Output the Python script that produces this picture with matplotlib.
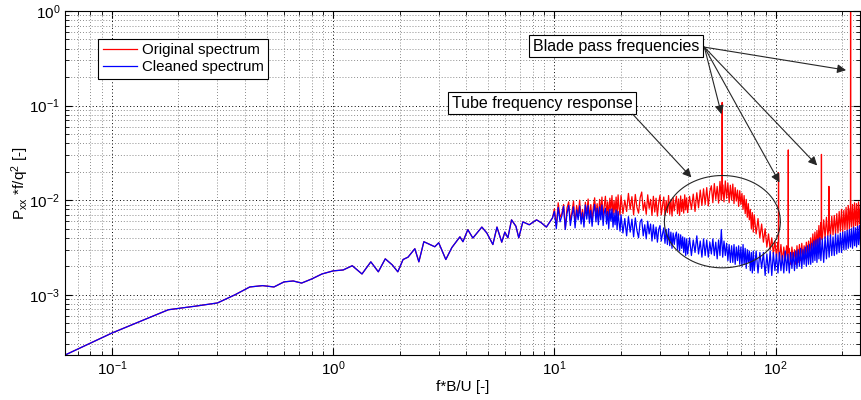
"""Spectrum before/after cleaning (log-log)"""

import numpy as np
import matplotlib
matplotlib.use("Agg")
import matplotlib.pyplot as plt

plt.rcParams["font.family"] = ["Liberation Sans", "DejaVu Sans"]
plt.rcParams["mathtext.fontset"] = "custom"
plt.rcParams["mathtext.rm"] = "Liberation Sans"
plt.rcParams["mathtext.it"] = "Liberation Sans:italic"

# low-frequency part, both spectra identical here
low_f = [0.06, 0.10, 0.18, 0.24, 0.30, 0.36, 0.42, 0.48, 0.54, 0.60,
         0.66, 0.72, 0.80, 0.89, 1.00, 1.11, 1.22, 1.35, 1.48, 1.60,
         1.72, 1.85, 1.96, 2.07, 2.18, 2.34, 2.44, 2.57, 2.88, 3.00,
         3.23, 3.44, 3.62, 3.74, 3.86, 4.06, 4.28, 4.50, 4.70, 4.95,
         5.27, 5.50, 5.78, 5.97, 6.16, 6.40, 6.70, 6.90, 7.20, 7.70,
         8.30, 8.70, 9.20, 9.80]
low_v = [2.25e-4, 3.94e-4, 6.95e-4, 7.6e-4, 8.2e-4, 1.0e-3, 1.21e-3, 1.25e-3, 1.21e-3, 1.37e-3,
         1.40e-3, 1.33e-3, 1.47e-3, 1.66e-3, 1.79e-3, 1.83e-3, 2.03e-3, 1.66e-3, 2.23e-3, 1.75e-3,
         2.40e-3, 2.07e-3, 1.75e-3, 2.36e-3, 2.50e-3, 3.07e-3, 2.23e-3, 3.64e-3, 3.22e-3, 3.55e-3,
         2.36e-3, 3.16e-3, 3.70e-3, 4.10e-3, 3.64e-3, 4.88e-3, 3.98e-3, 4.60e-3, 5.20e-3, 4.50e-3,
         3.40e-3, 5.20e-3, 3.60e-3, 4.60e-3, 4.00e-3, 6.20e-3, 5.30e-3, 4.00e-3, 5.90e-3, 5.50e-3,
         6.20e-3, 5.80e-3, 5.20e-3, 6.50e-3]

# dense noisy part, one list per octave; values in units of 1e-3
f_a = [10.0, 10.2, 10.4, 10.6, 10.8, 11.0, 11.2, 11.4, 11.6, 11.8,
       12.0, 12.2, 12.4, 12.6, 12.8, 13.0, 13.2, 13.4, 13.6, 13.8,
       14.0, 14.2, 14.4, 14.6, 14.8, 15.0, 15.2, 15.4, 15.6, 15.8,
       16.0, 16.2, 16.4, 16.6, 16.8, 17.0, 17.2, 17.4, 17.6, 17.8,
       18.0, 18.2, 18.4, 18.6, 18.8, 19.0, 19.2, 19.4, 19.6, 19.8]
red_a = [8.1, 5.3, 9.4, 6.6, 7.2, 9.0, 5.0, 8.3, 9.6, 6.0,
         7.5, 9.8, 5.6, 8.8, 6.9, 10.0, 6.2, 8.0, 5.8, 9.5,
         7.0, 10.3, 6.4, 9.0, 6.0, 8.6, 10.6, 6.8, 9.2, 6.1,
         10.2, 7.4, 10.8, 6.5, 8.7, 11.0, 7.0, 9.6, 6.6, 10.5,
         7.8, 11.2, 6.9, 9.9, 7.3, 10.8, 6.8, 11.4, 8.2, 7.0]
blue_a = [7.6, 5.0, 8.4, 5.9, 6.8, 8.6, 4.9, 7.2, 8.8, 5.4,
          6.9, 8.5, 5.1, 7.9, 6.2, 8.7, 5.6, 7.4, 5.2, 8.9,
          6.3, 8.8, 5.7, 7.8, 5.3, 7.5, 9.0, 5.9, 8.2, 5.5,
          8.5, 6.2, 8.9, 5.4, 7.4, 8.2, 5.6, 7.6, 5.0, 8.0,
          6.0, 8.1, 5.2, 7.3, 5.5, 7.9, 4.9, 7.6, 5.8, 4.7]

f_b = [20.0, 20.4, 20.8, 21.2, 21.6, 22.0, 22.4, 22.8, 23.2, 23.6,
       24.0, 24.4, 24.8, 25.2, 25.6, 26.0, 26.4, 26.8, 27.2, 27.6,
       28.0, 28.4, 28.8, 29.2, 29.6, 30.0, 30.4, 30.8, 31.2, 31.6,
       32.0, 32.4, 32.8, 33.2, 33.6, 34.0, 34.4, 34.8, 35.2, 35.6,
       36.0, 36.4, 36.8, 37.2, 37.6, 38.0, 38.4, 38.8, 39.2, 39.6]
red_b = [11.2, 7.2, 10.0, 7.6, 11.8, 8.0, 10.9, 7.0, 11.5, 8.4,
         7.3, 10.6, 12.2, 7.8, 9.6, 7.1, 11.4, 8.2, 10.2, 6.9,
         11.0, 7.5, 10.5, 6.8, 9.4, 11.3, 7.0, 8.8, 10.8, 6.9,
         9.9, 7.4, 11.2, 7.1, 10.1, 6.8, 10.6, 7.7, 9.5, 11.0,
         7.2, 10.3, 6.9, 11.1, 7.6, 10.2, 7.3, 11.4, 7.9, 10.6]
blue_b = [7.0, 4.5, 6.4, 4.2, 6.7, 4.6, 6.3, 4.1, 6.5, 4.8,
          4.0, 5.9, 6.3, 4.2, 5.5, 3.9, 6.0, 4.4, 5.6, 3.7,
          5.5, 3.9, 5.2, 3.6, 4.9, 5.4, 3.7, 4.4, 5.1, 3.5,
          4.9, 3.4, 5.0, 3.3, 4.6, 3.1, 4.5, 3.4, 4.2, 4.6,
          3.0, 4.4, 2.9, 4.3, 3.1, 4.1, 2.8, 4.0, 2.6, 3.9]

f_c = [40.0, 40.8, 41.6, 42.4, 43.2, 44.0, 44.8, 45.6, 46.4, 47.2,
       48.0, 48.8, 49.6, 50.4, 51.2, 52.0, 52.8, 53.6, 54.4, 55.2,
       56.0, 56.8, 57.6, 58.4, 59.2, 60.0, 60.8, 61.6, 62.4, 63.2,
       64.0, 64.8, 65.6, 66.4, 67.2, 68.0, 68.8, 69.6, 70.4, 71.2,
       72.0, 72.8, 73.6, 74.4, 75.2, 76.0, 76.8, 77.6, 78.4, 79.2]
red_c = [7.4, 11.0, 8.0, 11.6, 7.6, 12.0, 8.3, 12.8, 8.8, 13.2,
         9.0, 13.6, 8.7, 12.4, 14.2, 9.4, 15.0, 10.2, 14.0, 9.3,
         15.8, 10.0, 14.6, 9.6, 16.0, 10.5, 15.2, 9.4, 14.4, 10.0,
         14.8, 9.2, 13.6, 9.8, 12.8, 8.6, 12.6, 9.0, 11.8, 8.0,
         11.2, 7.2, 10.2, 6.6, 9.2, 6.2, 8.0, 5.0, 7.4, 4.6]
blue_c = [2.7, 4.0, 2.6, 3.8, 2.8, 4.2, 2.7, 3.7, 2.5, 3.9,
          2.6, 3.8, 2.5, 3.6, 2.7, 3.9, 2.6, 3.6, 2.4, 3.8,
          2.6, 4.9, 2.5, 3.7, 2.6, 3.5, 2.3, 3.4, 2.2, 3.3,
          2.2, 3.4, 2.1, 3.2, 2.3, 3.3, 2.1, 3.2, 2.0, 3.4,
          2.1, 3.1, 1.9, 3.0, 2.2, 2.9, 1.8, 2.8, 1.7, 2.9]

f_d = [80.0, 81.6, 83.2, 84.8, 86.4, 88.0, 89.6, 91.2, 92.8, 94.4,
       96.0, 97.6, 99.2, 100.8, 102.4, 104.0, 105.6, 107.2, 108.8, 110.4,
       112.0, 113.6, 115.2, 116.8, 118.4, 120.0, 121.6, 123.2, 124.8, 126.4,
       128.0, 129.6, 131.2, 132.8, 134.4, 136.0, 137.6, 139.2, 140.8, 142.4,
       144.0, 145.6, 147.2, 148.8, 150.4, 152.0, 153.6, 155.2, 156.8, 158.4]
red_d = [7.0, 4.4, 6.4, 4.0, 5.6, 3.6, 5.0, 3.2, 4.4, 3.0,
         4.0, 2.7, 3.7, 2.5, 3.6, 2.4, 3.4, 2.2, 3.2, 2.3,
         3.3, 2.2, 3.1, 2.1, 3.2, 2.3, 3.0, 2.1, 3.3, 2.2,
         3.4, 2.3, 3.5, 2.4, 3.3, 2.4, 3.6, 2.5, 3.7, 2.6,
         4.0, 2.7, 4.4, 2.9, 4.6, 3.0, 4.8, 3.2, 5.4, 3.4]
blue_d = [1.8, 2.9, 1.7, 2.8, 1.9, 2.8, 1.6, 2.7, 1.7, 2.9,
          1.6, 2.8, 1.8, 2.7, 1.7, 2.8, 1.8, 2.6, 1.7, 2.9,
          1.8, 2.7, 1.7, 2.8, 1.9, 2.8, 1.8, 2.9, 1.9, 3.0,
          2.0, 3.1, 1.9, 3.0, 2.1, 3.2, 2.0, 3.3, 2.1, 3.4,
          2.1, 3.5, 2.2, 3.7, 2.3, 3.8, 2.2, 3.9, 2.4, 4.0]

f_e = [160.0, 162.4, 164.8, 167.2, 169.6, 172.0, 174.4, 176.8, 179.2, 181.6,
       184.0, 186.4, 188.8, 191.2, 193.6, 196.0, 198.4, 200.8, 203.2, 205.6,
       208.0, 210.4, 212.8, 215.2, 217.6, 220.0, 222.4, 224.8, 227.2, 229.6,
       232.0, 234.4, 236.8, 239.2, 241.6, 244.0, 246.4]
red_e = [5.8, 3.8, 6.2, 4.0, 6.6, 4.2, 6.4, 4.1, 6.8, 4.3,
         6.9, 4.4, 7.2, 4.5, 7.6, 4.7, 8.0, 4.6, 7.8, 4.9,
         8.4, 4.8, 8.8, 5.0, 8.2, 5.2, 9.0, 4.9, 9.4, 5.4,
         9.2, 5.0, 9.6, 5.6, 9.0, 5.3, 9.3]
blue_e = [2.3, 3.9, 2.2, 4.1, 2.4, 4.2, 2.5, 4.3, 2.6, 4.1,
          2.6, 4.4, 2.7, 4.3, 2.8, 4.5, 2.8, 4.6, 3.0, 4.7,
          3.0, 4.8, 3.1, 4.9, 3.2, 5.0, 3.1, 5.2, 3.3, 5.1,
          3.2, 5.3, 3.4, 5.4, 3.3, 5.2, 3.5]

# blade pass spikes in the original spectrum
spike_f = [57.2, 57.3, 57.4, 102.9, 103.0, 103.1, 113.9, 114.0, 114.1,
           160.8, 161.0, 161.2, 173.8, 174.0, 174.2, 217.7, 218.0, 218.3]
spike_v = [0.0120, 0.108, 0.0120, 0.0034, 0.0195, 0.0030, 0.0030, 0.034, 0.0028,
           0.0046, 0.0305, 0.0042, 0.0050, 0.0140, 0.0048, 0.0070, 1.5, 0.0075]

# annotation geometry (data coords)
blade_start = (47.6, 0.415)
blade_targets = [(208, 0.237), (56.9, 0.081), (104, 0.0154), (154, 0.0233)]
tube_start = (22.6, 0.081)
tube_target = (41.6, 0.0174)
ell_center = (1.759, -2.227)   # log10 f, log10 P
ell_axes = (0.262, 0.488)      # decades


fig = plt.figure(figsize=(8.61, 4.0), dpi=100)
ax = fig.add_axes([0.0755, 0.1125, 0.9235, 0.86])

hi_f = np.concatenate([f_a, f_b, f_c, f_d, f_e])
hi_red = np.concatenate([red_a, red_b, red_c, red_d, red_e]) * 1e-3
hi_blue = np.concatenate([blue_a, blue_b, blue_c, blue_d, blue_e]) * 1e-3

# original = low part + dense red + spikes
red_f = np.concatenate([low_f, hi_f, spike_f])
red_v = np.concatenate([low_v, hi_red, spike_v])
order = np.argsort(red_f)
blue_f = np.concatenate([low_f, hi_f])
blue_v = np.concatenate([low_v, hi_blue])

ax.loglog(red_f[order], red_v[order], color="#ff0000", linewidth=0.9, label="Original spectrum")
ax.loglog(blue_f, blue_v, color="#0000ff", linewidth=0.9, label="Cleaned spectrum")

ax.set_xlim(0.0614, 240.8)
ax.set_ylim(2.31e-4, 1.0)

ax.grid(True, which="major", linestyle=(0, (1, 2.5)), color="k", linewidth=0.7)
ax.grid(True, which="minor", linestyle=(0, (1, 2.5)), color="0.4", linewidth=0.6)
ax.tick_params(which="both", direction="in", top=True, right=True, labelsize=11)
ax.tick_params(which="major", length=5)
ax.tick_params(which="minor", length=3)
for s in ax.spines.values():
    s.set_linewidth(0.8)

ax.set_xlabel("f*B/U [-]", fontsize=11, labelpad=1)
ax.set_ylabel(r"P$_{\mathrm{xx}}$ *f/q$^2$ [-]", fontsize=11, labelpad=-1)

leg = ax.legend(loc="upper left", bbox_to_anchor=(0.042, 0.92), fontsize=10.8,
                fancybox=False, framealpha=1, edgecolor="k", borderpad=0.3,
                handlelength=2.3, handletextpad=0.3, labelspacing=0.2, borderaxespad=0)
leg.get_frame().set_linewidth(0.8)

box = dict(boxstyle="square,pad=0.22", facecolor="white", edgecolor="k", linewidth=0.8)
ax.text(45.2, 0.425, "Blade pass frequencies", ha="right", va="center", fontsize=11.5, bbox=box)
ax.text(3.44, 0.106, "Tube frequency response", ha="left", va="center", fontsize=11.5, bbox=box)

arrow = dict(arrowstyle="-|>", color="0.15", linewidth=0.8, mutation_scale=13, shrinkA=0, shrinkB=0)
for tgt in blade_targets:
    ax.annotate("", xy=tgt, xytext=blade_start, arrowprops=arrow)
ax.annotate("", xy=tube_target, xytext=tube_start, arrowprops=arrow)

t = np.linspace(0, 2 * np.pi, 200)
ax.plot(10 ** (ell_center[0] + ell_axes[0] * np.cos(t)),
        10 ** (ell_center[1] + ell_axes[1] * np.sin(t)), color="0.15", linewidth=0.8)

plt.savefig("out.png", dpi=100)
